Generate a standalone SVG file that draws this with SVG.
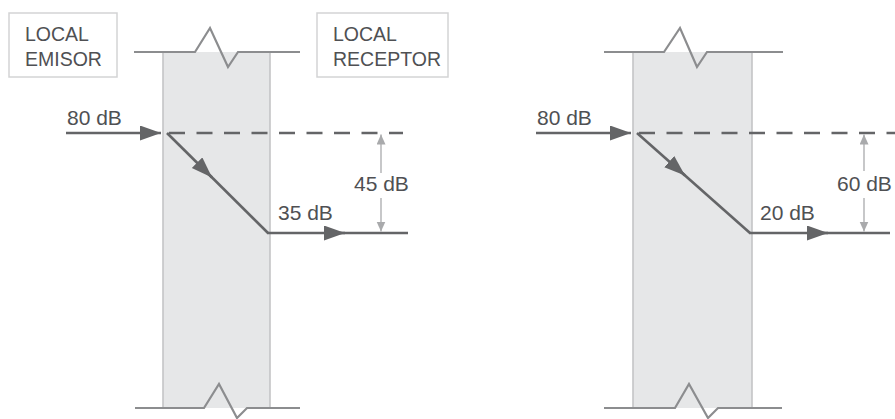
<svg xmlns="http://www.w3.org/2000/svg" width="895" height="419" viewBox="0 0 895 419">
<style>
.lbl{font-family:"Liberation Sans",Arial,sans-serif;font-size:19.5px;fill:#4f5053}
.val{font-family:"Liberation Sans",Arial,sans-serif;font-size:21px;fill:#4f5053}
.box{fill:#fff;stroke:#d3d4d5;stroke-width:1.5}
.wall{fill:#e6e7e8;stroke:none}
.edge{stroke:#c4c5c6;stroke-width:1.6;fill:none}
.brk{stroke:#8c8d8f;stroke-width:2.2;fill:none;stroke-linejoin:miter}
.ray{stroke:#646567;stroke-width:2.6;fill:none}
.dash{stroke:#646567;stroke-width:2.6;fill:none;stroke-dasharray:16 11.5}
.dim{stroke:#a9aaac;stroke-width:1.3;fill:none}
</style>
<defs>
<marker id="ah" markerUnits="userSpaceOnUse" markerWidth="22" markerHeight="16" refX="21" refY="7.5" orient="auto">
<path d="M0,0 L21,7.5 L0,15 Z" fill="#646567"/>
</marker>
<marker id="dh" markerUnits="userSpaceOnUse" markerWidth="11" markerHeight="10" refX="10" refY="4.5" orient="auto">
<path d="M0,0 L10,4.5 L0,9 Z" fill="#a9aaac"/>
</marker>
</defs>

<g id="wall-left">
<rect class="wall" x="163" y="52" width="107" height="356"/>
<line class="edge" x1="163" y1="52" x2="163" y2="408"/>
<line class="edge" x1="270" y1="52" x2="270" y2="408"/>
<polyline class="brk" points="134,52 195,52 210,28 228,67 238,52 300,52"/>
<polyline class="brk" points="135,408 204,408 219,384 237,418 247,408 300,408"/>
</g>

<g id="wall-right">
<rect class="wall" x="633" y="52" width="119" height="356"/>
<line class="edge" x1="633" y1="52" x2="633" y2="408"/>
<line class="edge" x1="752" y1="52" x2="752" y2="408"/>
<polyline class="brk" points="604,52 664,52 680,28 697,67 707,52 783,52"/>
<polyline class="brk" points="604,408 675,408 689,384 708,418 718,408 782,408"/>
</g>

<g id="local-emisor">
<rect class="box" x="9" y="13" width="108" height="64"/>
<text class="lbl" x="25" y="41">LOCAL</text>
<text class="lbl" x="25" y="66">EMISOR</text>
</g>

<g id="local-receptor">
<rect class="box" x="317" y="13" width="131" height="64"/>
<text class="lbl" x="333" y="41">LOCAL</text>
<text class="lbl" x="333" y="66">RECEPTOR</text>
</g>

<g id="connectors">
<!-- left panel -->
<line class="ray" x1="66" y1="133" x2="161" y2="133" marker-end="url(#ah)"/>
<line class="dash" x1="169" y1="133" x2="403" y2="133"/>
<line class="ray" x1="167" y1="133" x2="212" y2="177.5" marker-end="url(#ah)"/>
<line class="ray" x1="205" y1="170.5" x2="268" y2="233"/>
<line class="ray" x1="267" y1="233" x2="345" y2="233" marker-end="url(#ah)"/>
<line class="ray" x1="338" y1="233" x2="408" y2="233"/>
<line class="dim" x1="381" y1="173" x2="381" y2="134.5" marker-end="url(#dh)"/>
<line class="dim" x1="381" y1="198" x2="381" y2="231.5" marker-end="url(#dh)"/>
<!-- right panel -->
<line class="ray" x1="536" y1="133" x2="631" y2="133" marker-end="url(#ah)"/>
<line class="dash" x1="639" y1="133" x2="895" y2="133"/>
<line class="ray" x1="637" y1="133" x2="685" y2="175.5" marker-end="url(#ah)"/>
<line class="ray" x1="678" y1="169.3" x2="750" y2="233"/>
<line class="ray" x1="749" y1="233" x2="828" y2="233" marker-end="url(#ah)"/>
<line class="ray" x1="821" y1="233" x2="890" y2="233"/>
<line class="dim" x1="864" y1="171" x2="864" y2="134.5" marker-end="url(#dh)"/>
<line class="dim" x1="864" y1="198" x2="864" y2="231.5" marker-end="url(#dh)"/>
</g>

<g id="labels">
<text class="val" x="67" y="125">80 dB</text>
<text class="val" x="278" y="220">35 dB</text>
<text class="val" x="354" y="191">45 dB</text>
<text class="val" x="537" y="125">80 dB</text>
<text class="val" x="760" y="220">20 dB</text>
<text class="val" x="837" y="191">60 dB</text>
</g>
</svg>
